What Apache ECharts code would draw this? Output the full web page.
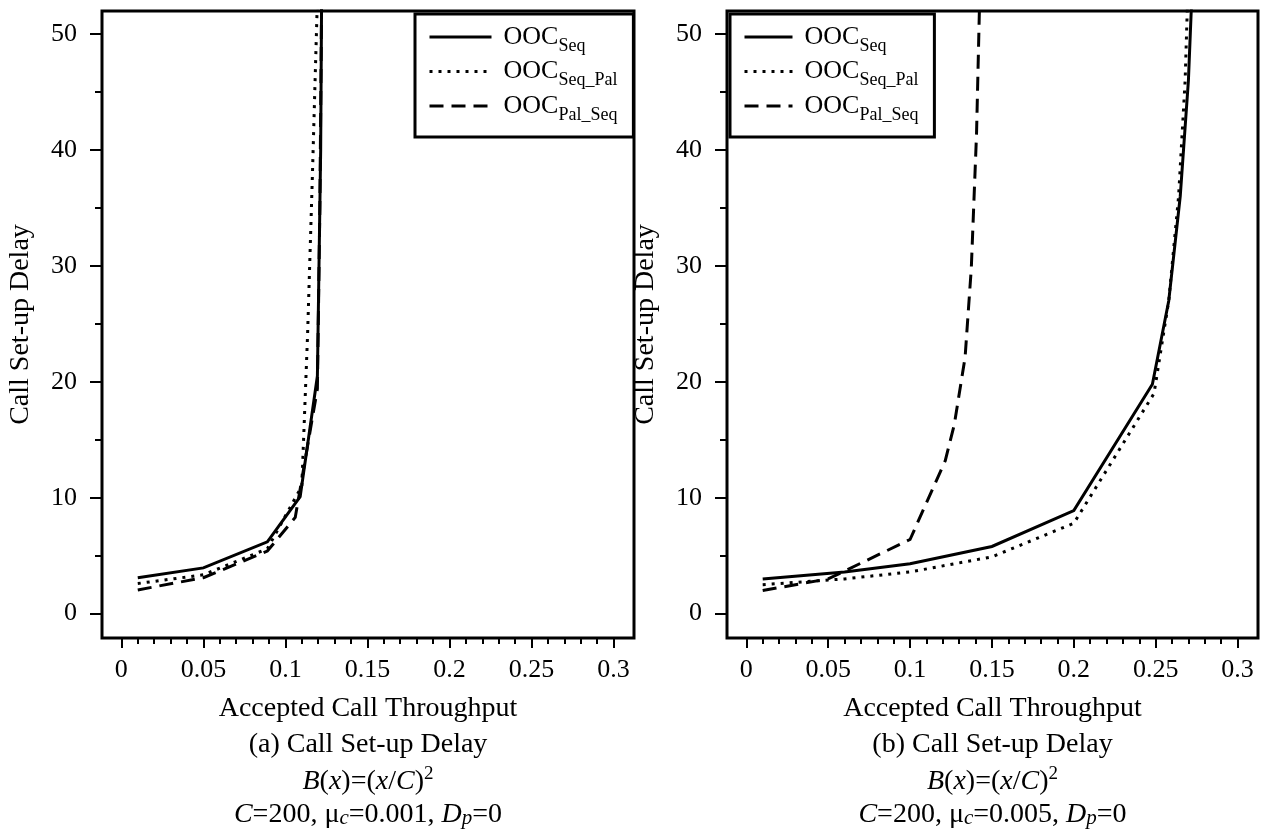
<!DOCTYPE html>
<html><head><meta charset="utf-8">
<script src="https://cdn.jsdelivr.net/npm/echarts@6/dist/echarts.min.js"></script>
<style>html,body{margin:0;padding:0;background:#fff}#c{width:1270px;height:834px}</style>
</head><body><div id="c"></div>
<script>
// ---- tick values ----
const xMajorTicks = [0, 0.05, 0.1, 0.15, 0.2, 0.25, 0.3];
const xMinorTicks = [0.01,0.02,0.03,0.04,0.06,0.07,0.08,0.09,0.11,0.12,0.13,0.14,0.16,0.17,0.18,0.19,0.21,0.22,0.23,0.24,0.26,0.27,0.28,0.29];
const yMajorTicks = [0, 10, 20, 30, 40, 50];
const yMinorTicks = [5, 15, 25, 35, 45];
const seriesNames = ['OOC_Seq', 'OOC_Seq_Pal', 'OOC_Pal_Seq'];

// ---- (a) mu_c = 0.001 ----
const a_seq    = [[0.01,3.1],[0.05,3.95],[0.089,6.2],[0.109,10.1],[0.1195,20.5],[0.1215,40],[0.1228,70]];
const a_seqPal = [[0.01,2.6],[0.05,3.35],[0.089,5.6],[0.11,11],[0.1135,24],[0.1165,38],[0.1195,53],[0.121,65]];
const a_palSeq = [[0.01,2.05],[0.05,3.1],[0.089,5.4],[0.106,8.3],[0.1195,19.4],[0.121,35],[0.1225,60]];

// ---- (b) mu_c = 0.005 ----
const b_seq    = [[0.01,3.0],[0.06,3.6],[0.1,4.3],[0.15,5.8],[0.2,8.9],[0.248,19.8],[0.258,27],[0.265,36],[0.27,46],[0.274,60]];
const b_seqPal = [[0.01,2.5],[0.06,3.0],[0.1,3.6],[0.15,4.9],[0.2,7.8],[0.249,19],[0.258,27],[0.264,36],[0.268,46],[0.271,60]];
const b_palSeq = [[0.01,2.0],[0.05,3.0],[0.1,6.4],[0.1215,13.2],[0.127,16.3],[0.1336,22.1],[0.1374,29.8],[0.1406,41.4],[0.1423,51.8],[0.1435,60]];

const captionA = ['(a) Call Set-up Delay', '{i|B}({i|x})=({i|x}/{i|C}){sup|2}', '{i|C}=200, μ{sub|c}=0.001, {i|D}{sub|p}=0'];
const captionB = ['(b) Call Set-up Delay', '{i|B}({i|x})=({i|x}/{i|C}){sup|2}', '{i|C}=200, μ{sub|c}=0.005, {i|D}{sub|p}=0'];

const SERIF = "'Liberation Serif', 'Times New Roman', 'DejaVu Serif', serif";
const X_MIN = -0.0118, X_MAX = 0.3125, Y_MIN = -2.1, Y_MAX = 52;

const grids = [
  {left: 102, top: 11, width: 532, height: 627},
  {left: 727, top: 11, width: 531, height: 627}
];

const lineTypes = ['solid', [3, 6], [14, 8]];

function xAxes(gi) {
  return [
    {gridIndex: gi, type: 'value', min: X_MIN, max: X_MAX, position: 'bottom',
     axisLine: {show: false, onZero: false}, splitLine: {show: false},
     axisTick: {show: true, customValues: xMajorTicks, length: 10, lineStyle: {color: '#000', width: 2}},
     axisLabel: {customValues: xMajorTicks, fontSize: 26, color: '#000', fontFamily: SERIF, margin: 19},
     name: 'Accepted Call Throughput', nameLocation: 'middle', nameGap: 71,
     nameTextStyle: {fontSize: 28, fontFamily: SERIF, color: '#000', verticalAlign: 'middle'}},
    {gridIndex: gi, type: 'value', min: X_MIN, max: X_MAX, position: 'bottom',
     axisLine: {show: false, onZero: false}, splitLine: {show: false},
     axisTick: {show: true, customValues: xMinorTicks, length: 6, lineStyle: {color: '#000', width: 2}},
     axisLabel: {show: false}}
  ];
}
function yAxes(gi) {
  return [
    {gridIndex: gi, type: 'value', min: Y_MIN, max: Y_MAX, position: 'left',
     axisLine: {show: false, onZero: false}, splitLine: {show: false},
     axisTick: {show: true, customValues: yMajorTicks, length: 12, lineStyle: {color: '#000', width: 2}},
     axisLabel: {customValues: yMajorTicks, fontSize: 26, color: '#000', fontFamily: SERIF, margin: 25},
     name: 'Call Set-up Delay', nameLocation: 'middle', nameGap: 81,
     nameTextStyle: {fontSize: 28, fontFamily: SERIF, color: '#000', verticalAlign: 'middle'}},
    {gridIndex: gi, type: 'value', min: Y_MIN, max: Y_MAX, position: 'left',
     axisLine: {show: false, onZero: false}, splitLine: {show: false},
     axisTick: {show: true, customValues: yMinorTicks, length: 7, lineStyle: {color: '#000', width: 2}},
     axisLabel: {show: false}}
  ];
}

function mkSeries(data, k, gi) {
  return {
    name: seriesNames[k], type: 'line', data: data,
    xAxisIndex: gi * 2, yAxisIndex: gi * 2,
    symbol: 'none', showSymbol: false, clip: true, silent: true,
    lineStyle: {color: '#000', width: 3, type: lineTypes[k], cap: 'butt', join: 'miter'}
  };
}

const legendRich = {
  a: {fontFamily: SERIF, fontSize: 26, lineHeight: 30, color: '#000', padding: [0, 0, 0, 7]},
  b: {fontFamily: SERIF, fontSize: 18, lineHeight: 30, color: '#000', padding: [18, 0, 0, 0]}
};
function mkLegend(left, iw, pad) {
  return {
    data: seriesNames, left: left, top: 14, orient: 'vertical',
    itemWidth: iw, itemHeight: 14, itemGap: -1.5, padding: pad,
    borderColor: '#000', borderWidth: 3, backgroundColor: '#fff',
    selectedMode: false,
    itemStyle: {opacity: 0},
    lineStyle: {width: 3},
    formatter: n => '{a|OOC}{b|' + n.slice(4) + '}',
    textStyle: {rich: legendRich}
  };
}

const capRich = {
  n: {fontFamily: SERIF, fontSize: 28, lineHeight: 34, color: '#000'},
  i: {fontFamily: SERIF, fontSize: 28, lineHeight: 34, fontStyle: 'italic', color: '#000'},
  sup: {fontFamily: SERIF, fontSize: 19, lineHeight: 34, color: '#000', padding: [0, 0, 15, 0]},
  sub: {fontFamily: SERIF, fontSize: 21, lineHeight: 34, fontStyle: 'italic', color: '#000', padding: [8, 0, 0, 0]}
};
function captionGraphics(lines, cx) {
  const ys = [744.5, 781.5, 814.5];
  return lines.map((t, i) => ({
    type: 'text', x: cx, y: ys[i], silent: true,
    style: {text: t, align: 'center', verticalAlign: 'middle', fontFamily: SERIF, fontSize: 28, fill: '#000', rich: capRich}
  }));
}

const chart = echarts.init(document.getElementById('c'), null, {renderer: 'canvas'});
chart.setOption({
  backgroundColor: '#fff',
  animation: false,
  grid: grids.map(g => Object.assign({show: true, borderColor: '#000', borderWidth: 3, backgroundColor: 'transparent'}, g)),
  xAxis: xAxes(0).concat(xAxes(1)),
  yAxis: yAxes(0).concat(yAxes(1)),
  legend: [mkLegend(415, 62, [5, 16, 13, 13]), mkLegend(730, 48, [5, 16, 13, 13])],
  series: [
    mkSeries(a_seq, 0, 0), mkSeries(a_seqPal, 1, 0), mkSeries(a_palSeq, 2, 0),
    mkSeries(b_seq, 0, 1), mkSeries(b_seqPal, 1, 1), mkSeries(b_palSeq, 2, 1)
  ],
  graphic: captionGraphics(captionA, 368).concat(captionGraphics(captionB, 992.5))
});
</script></body></html>
